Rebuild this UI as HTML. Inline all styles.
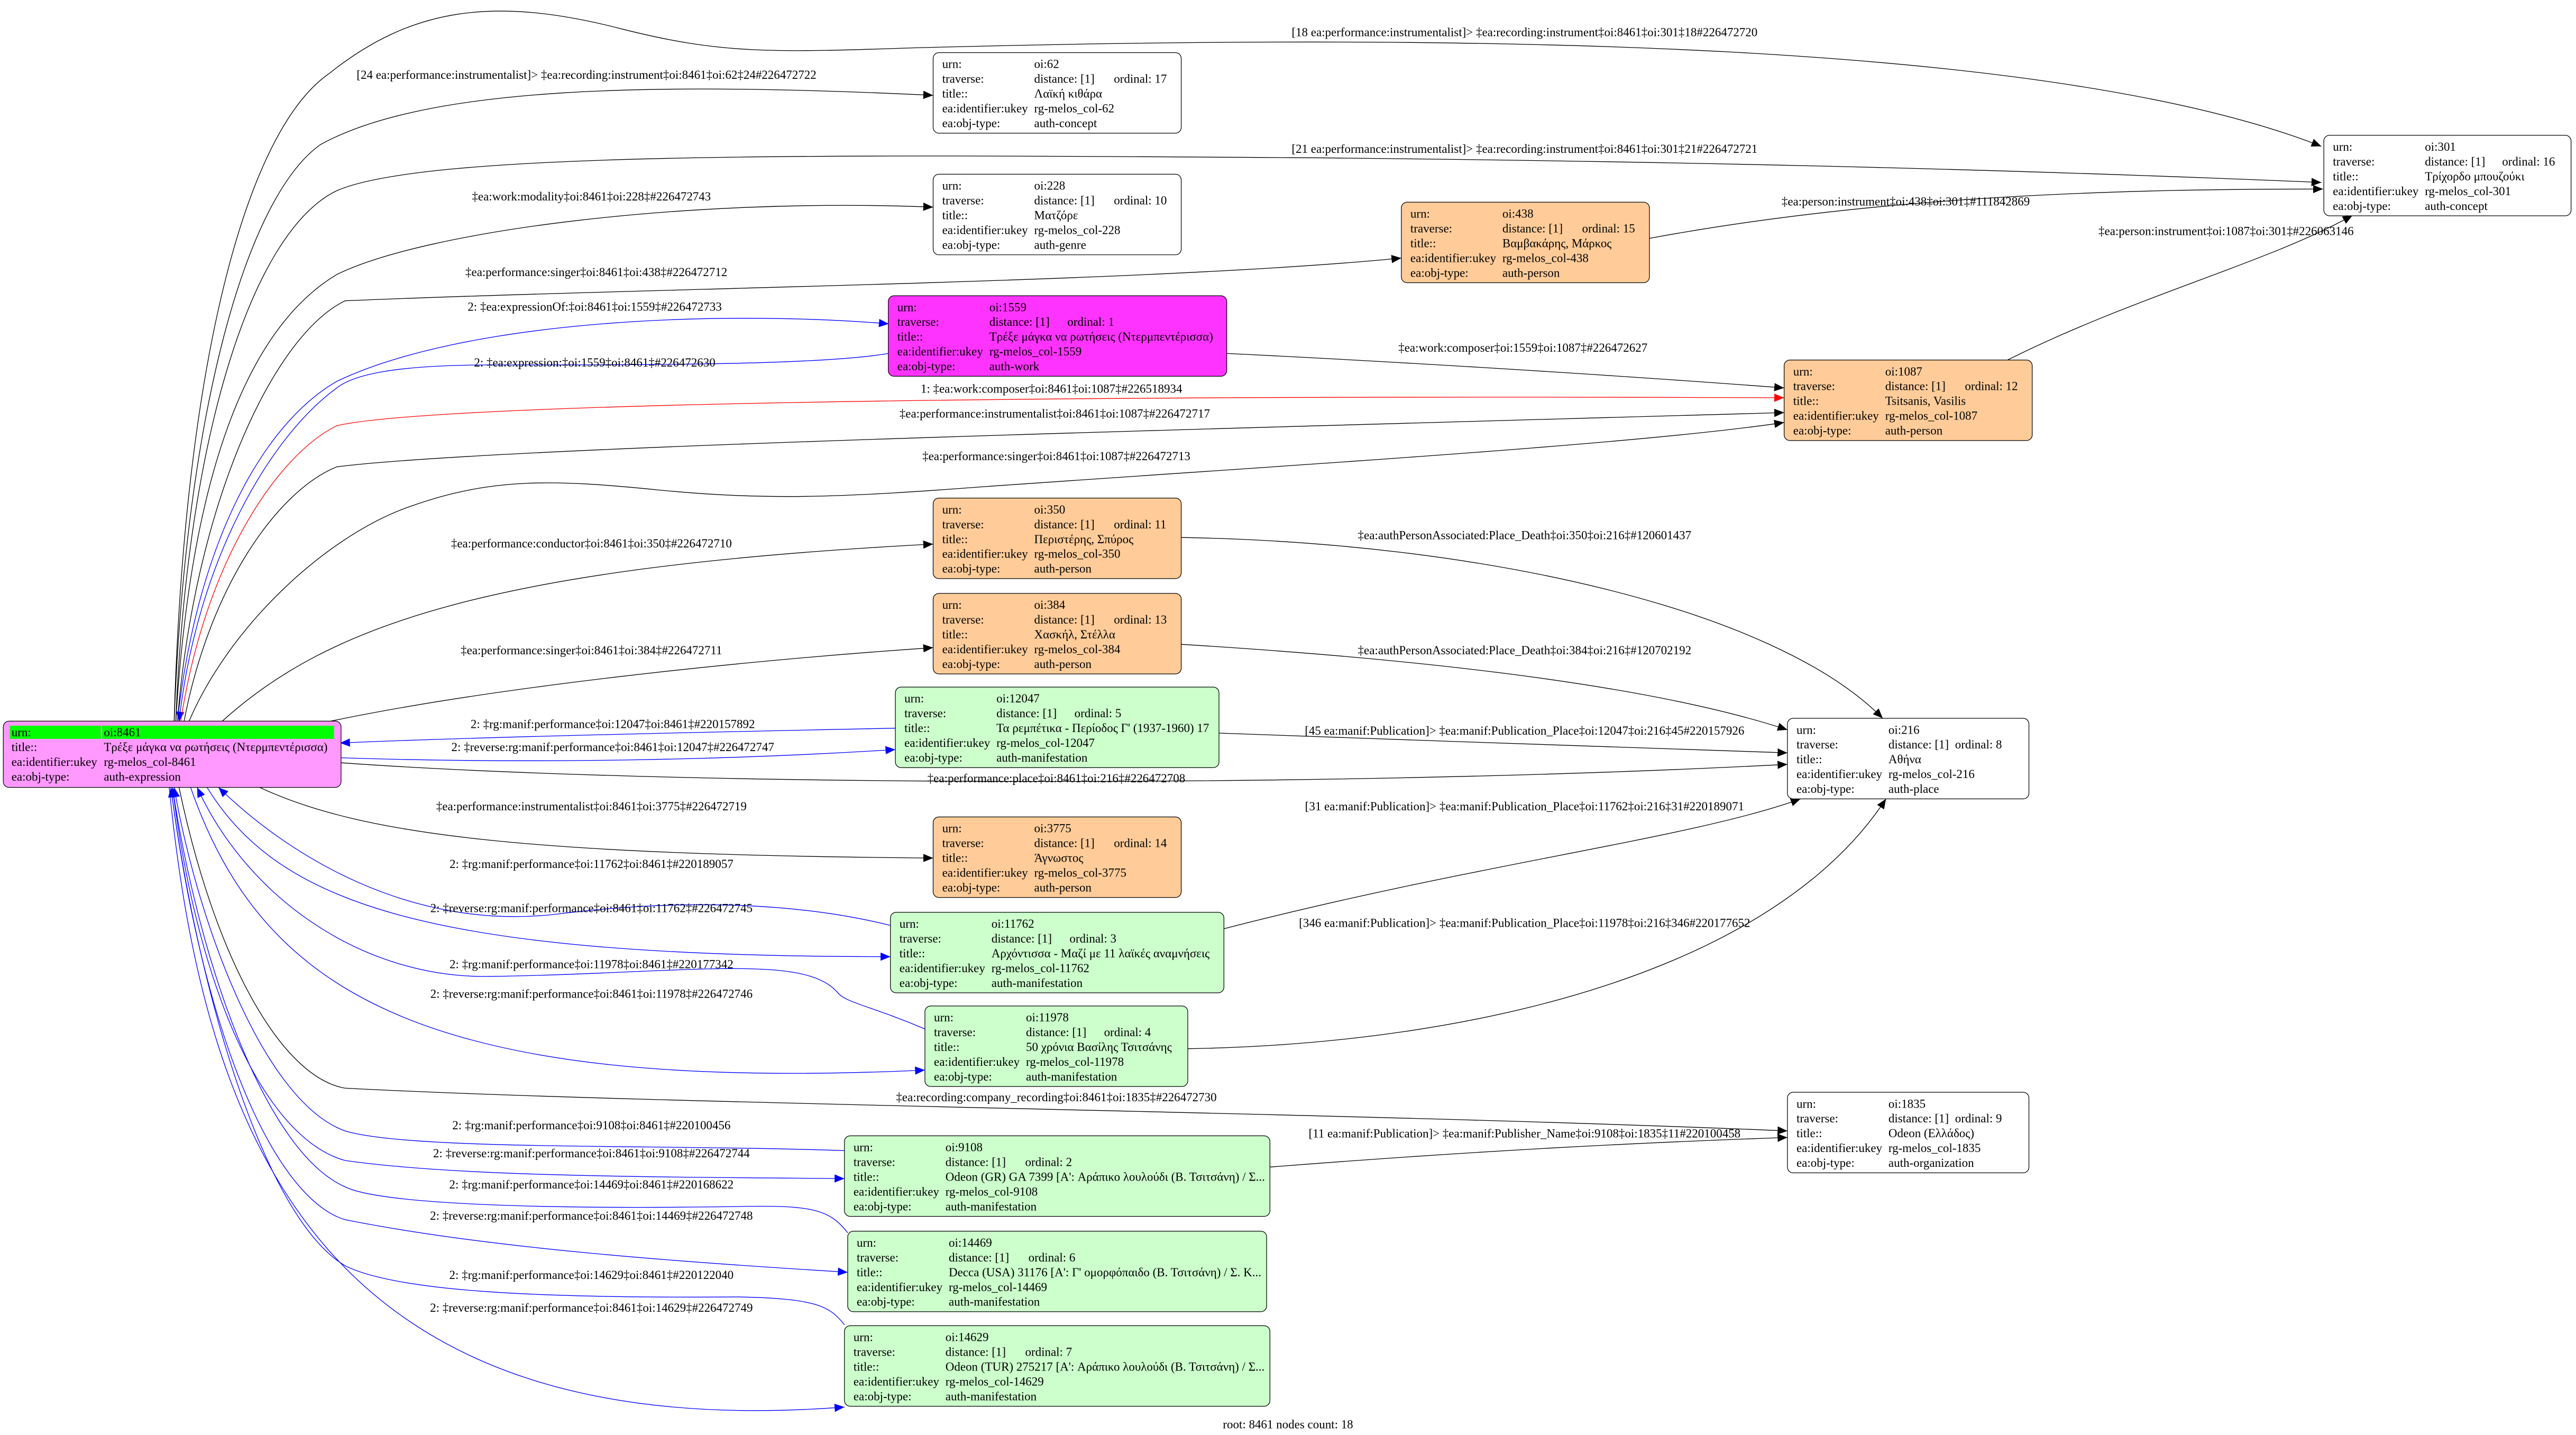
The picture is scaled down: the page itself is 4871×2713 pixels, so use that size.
<!DOCTYPE html>
<html><head><meta charset="utf-8"><style>
html,body{margin:0;padding:0;background:#fff;}
svg{display:block;}
text{font-family:"Liberation Serif","Noto Serif CJK SC",serif;font-size:7.4px;fill:#000;}
.e{fill:none;stroke:#000;stroke-width:0.42;}
.b{stroke:#0000ff;}
.r{stroke:#ff0000;}
.n{stroke:#000;stroke-width:0.4;}
.l{text-anchor:middle;}
</style></head><body>
<svg width="4871" height="2713" viewBox="0 0 1568 873" preserveAspectRatio="none" xmlns="http://www.w3.org/2000/svg">
<defs>
<marker id="ak" markerUnits="userSpaceOnUse" markerWidth="7" markerHeight="6" refX="6" refY="2.5" orient="auto"><path d="M0,0 L6,2.5 L0,5 z" fill="#000"/></marker>
<marker id="ab" markerUnits="userSpaceOnUse" markerWidth="7" markerHeight="6" refX="6" refY="2.5" orient="auto"><path d="M0,0 L6,2.5 L0,5 z" fill="#0000ff"/></marker>
<marker id="ar" markerUnits="userSpaceOnUse" markerWidth="7" markerHeight="6" refX="6" refY="2.5" orient="auto"><path d="M0,0 L6,2.5 L0,5 z" fill="#ff0000"/></marker>
</defs>

<path class="e" marker-end="url(#ak)" d="M106,439 C112,220 150,80 200,45 C250,5 300,-3 380,18 C440,33 470,32 560,29 C900,20 1250,25 1413,89"/>
<text class="l" x="928" y="22">[18 ea:performance:instrumentalist]&gt; ‡ea:recording:instrument‡oi:8461‡oi:301‡18#226472720</text>
<path class="e" marker-end="url(#ak)" d="M106,439 C113,250 150,120 195,88 C260,52 400,50 568,58"/>
<text class="l" x="357" y="48">[24 ea:performance:instrumentalist]&gt; ‡ea:recording:instrument‡oi:8461‡oi:62‡24#226472722</text>
<path class="e" marker-end="url(#ak)" d="M107,439 C114,260 155,140 205,116 C260,92 500,94 800,96 C1000,98 1200,102 1413,111"/>
<text class="l" x="928" y="93">[21 ea:performance:instrumentalist]&gt; ‡ea:recording:instrument‡oi:8461‡oi:301‡21#226472721</text>
<path class="e" marker-end="url(#ak)" d="M107,439 C116,290 150,200 205,167 C260,140 420,120 568,126"/>
<text class="l" x="360" y="122">‡ea:work:modality‡oi:8461‡oi:228‡#226472743</text>
<path class="e" marker-end="url(#ak)" d="M108,439 C118,310 165,205 210,183 C400,175 700,172 853,157"/>
<text class="l" x="363" y="168">‡ea:performance:singer‡oi:8461‡oi:438‡#226472712</text>
<path class="e b" marker-end="url(#ab)" d="M108,439 C120,330 160,258 205,232 C280,196 430,188 541,197"/>
<text class="l" x="362" y="189">2: ‡ea:expressionOf:‡oi:8461‡oi:1559‡#226472733</text>
<path class="e b" marker-end="url(#ab)" d="M541,215 C500,222 400,222 300,222 C240,222 215,228 205,236 C165,265 120,340 109,439"/>
<text class="l" x="362" y="223">2: ‡ea:expression:‡oi:1559‡oi:8461‡#226472630</text>
<path class="e r" marker-end="url(#ar)" d="M110,439 C125,340 170,276 205,259 C260,246 600,240 1086,242"/>
<text class="l" x="640" y="239">1: ‡ea:work:composer‡oi:8461‡oi:1087‡#226518934</text>
<path class="e" marker-end="url(#ak)" d="M112,439 C128,355 170,298 205,284 C300,272 700,262 1086,251"/>
<text class="l" x="642" y="254">‡ea:performance:instrumentalist‡oi:8461‡oi:1087‡#226472717</text>
<path class="e" marker-end="url(#ak)" d="M115,439 C140,380 200,325 250,308 C300,290 340,292 400,298 C470,305 520,302 600,296 C800,282 1000,270 1086,257"/>
<text class="l" x="643" y="280">‡ea:performance:singer‡oi:8461‡oi:1087‡#226472713</text>
<path class="e" marker-end="url(#ak)" d="M135,439 C200,380 300,345 568,331"/>
<text class="l" x="360" y="333">‡ea:performance:conductor‡oi:8461‡oi:350‡#226472710</text>
<path class="e" marker-end="url(#ak)" d="M200,439 C300,418 450,402 568,394"/>
<text class="l" x="360" y="398">‡ea:performance:singer‡oi:8461‡oi:384‡#226472711</text>

<path class="e b" marker-end="url(#ab)" d="M545,443 C450,445 300,448 207,452"/>
<text class="l" x="373" y="443">2: ‡rg:manif:performance‡oi:12047‡oi:8461‡#220157892</text>
<path class="e b" marker-end="url(#ab)" d="M207,461 C330,465 450,462 545,456"/>
<text class="l" x="373" y="457">2: ‡reverse:rg:manif:performance‡oi:8461‡oi:12047‡#226472747</text>
<path class="e" marker-end="url(#ak)" d="M207,464 C400,478 800,480 1088,465"/>
<text class="l" x="643" y="476">‡ea:performance:place‡oi:8461‡oi:216‡#226472708</text>
<path class="e" marker-end="url(#ak)" d="M158,479 C220,508 320,520 568,522"/>
<text class="l" x="360" y="493">‡ea:performance:instrumentalist‡oi:8461‡oi:3775‡#226472719</text>
<path class="e b" marker-end="url(#ab)" d="M542,563 C490,550 420,546 340,556 C250,567 175,520 133,479"/>
<text class="l" x="360" y="528">2: ‡rg:manif:performance‡oi:11762‡oi:8461‡#220189057</text>
<path class="e b" marker-end="url(#ab)" d="M126,479 C170,550 260,582 542,582"/>
<text class="l" x="360" y="555">2: ‡reverse:rg:manif:performance‡oi:8461‡oi:11762‡#226472745</text>
<path class="e b" marker-end="url(#ab)" d="M563,626 C530,612 515,610 510,604 C490,580 420,592 300,594 C220,596 150,545 120,479"/>
<text class="l" x="360" y="589">2: ‡rg:manif:performance‡oi:11978‡oi:8461‡#220177342</text>
<path class="e b" marker-end="url(#ab)" d="M116,479 C160,605 260,665 563,651"/>
<text class="l" x="360" y="607">2: ‡reverse:rg:manif:performance‡oi:8461‡oi:11978‡#226472746</text>
<path class="e" marker-end="url(#ak)" d="M109,479 C130,580 170,655 210,662 C400,672 800,676 1088,688"/>
<text class="l" x="643" y="670">‡ea:recording:company_recording‡oi:8461‡oi:1835‡#226472730</text>
<path class="e b" marker-end="url(#ab)" d="M514,700 C400,696 250,700 210,688 C160,670 120,560 106,479"/>
<text class="l" x="360" y="687">2: ‡rg:manif:performance‡oi:9108‡oi:8461‡#220100456</text>
<path class="e b" marker-end="url(#ab)" d="M105,479 C120,600 160,692 210,706 C280,716 400,716 514,717"/>
<text class="l" x="360" y="704">2: ‡reverse:rg:manif:performance‡oi:8461‡oi:9108‡#226472744</text>
<path class="e b" marker-end="url(#ab)" d="M516,750 C505,736 495,733 450,734 C320,736 230,732 210,722 C160,700 120,580 105,479"/>
<text class="l" x="360" y="723">2: ‡rg:manif:performance‡oi:14469‡oi:8461‡#220168622</text>
<path class="e b" marker-end="url(#ab)" d="M104,479 C125,640 170,730 210,742 C300,760 420,768 516,774"/>
<text class="l" x="360" y="742">2: ‡reverse:rg:manif:performance‡oi:8461‡oi:14469‡#226472748</text>
<path class="e b" marker-end="url(#ab)" d="M514,806 C505,794 495,790 450,789 C320,790 240,785 210,770 C160,740 120,600 104,479"/>
<text class="l" x="360" y="778">2: ‡rg:manif:performance‡oi:14629‡oi:8461‡#220122040</text>
<path class="e b" marker-end="url(#ab)" d="M103,479 C125,700 200,880 514,856"/>
<text class="l" x="360" y="798">2: ‡reverse:rg:manif:performance‡oi:8461‡oi:14629‡#226472749</text>

<path class="e" marker-end="url(#ak)" d="M1004,145 C1150,118 1300,115 1414,115"/>
<text class="l" x="1160" y="125">‡ea:person:instrument‡oi:438‡oi:301‡#111842869</text>
<path class="e" marker-end="url(#ak)" d="M1222,219 C1300,180 1380,160 1432,131"/>
<text class="l" x="1355" y="143">‡ea:person:instrument‡oi:1087‡oi:301‡#226063146</text>
<path class="e" marker-end="url(#ak)" d="M746,215 C850,220 980,228 1086,236"/>
<text class="l" x="927" y="214">‡ea:work:composer‡oi:1559‡oi:1087‡#226472627</text>
<path class="e" marker-end="url(#ak)" d="M719,327 C900,330 1080,370 1146,437"/>
<text class="l" x="928" y="328">‡ea:authPersonAssociated:Place_Death‡oi:350‡oi:216‡#120601437</text>
<path class="e" marker-end="url(#ak)" d="M719,392 C850,400 1000,415 1088,444"/>
<text class="l" x="928" y="398">‡ea:authPersonAssociated:Place_Death‡oi:384‡oi:216‡#120702192</text>
<path class="e" marker-end="url(#ak)" d="M742,446 C850,450 1000,455 1088,458"/>
<text class="l" x="928" y="447">[45 ea:manif:Publication]&gt; ‡ea:manif:Publication_Place‡oi:12047‡oi:216‡45#220157926</text>
<path class="e" marker-end="url(#ak)" d="M745,565 C900,525 1030,510 1096,486"/>
<text class="l" x="928" y="493">[31 ea:manif:Publication]&gt; ‡ea:manif:Publication_Place‡oi:11762‡oi:216‡31#220189071</text>
<path class="e" marker-end="url(#ak)" d="M723,638 C900,635 1080,590 1148,486"/>
<text class="l" x="928" y="564">[346 ea:manif:Publication]&gt; ‡ea:manif:Publication_Place‡oi:11978‡oi:216‡346#220177652</text>
<path class="e" marker-end="url(#ak)" d="M773,710 C900,700 1000,695 1088,692"/>
<text class="l" x="928" y="692">[11 ea:manif:Publication]&gt; ‡ea:manif:Publisher_Name‡oi:9108‡oi:1835‡11#220100458</text>

<rect class="n" x="2" y="438.7" width="205.6" height="40.3" rx="3.5" fill="#ff99ff"/>
<rect x="6" y="441.5" width="55.4" height="8" fill="#00ff00"/>
<rect x="62.1" y="441.5" width="141.2" height="8" fill="#00ff00"/>
<text x="7" y="447.9">urn:</text><text x="63.2" y="447.9">oi:8461</text>
<text x="7" y="456.9">title::</text><text x="63.2" y="456.9">Τρέξε μάγκα να ρωτήσεις (Ντερμπεντέρισσα)</text>
<text x="7" y="465.9">ea:identifier:ukey</text><text x="63.2" y="465.9">rg-melos_col-8461</text>
<text x="7" y="474.9">ea:obj-type:</text><text x="63.2" y="474.9">auth-expression</text>

<g transform="translate(568,32)"><rect class="n" width="151" height="49" rx="3.5" fill="#fff"/>
<text x="5.5" y="9.4">urn:</text><text x="61.5" y="9.4">oi:62</text>
<text x="5.5" y="18.4">traverse:</text><text x="61.5" y="18.4">distance: [1]</text><text x="110" y="18.4">ordinal: 17</text>
<text x="5.5" y="27.4">title::</text><text x="61.5" y="27.4">Λαϊκή κιθάρα</text>
<text x="5.5" y="36.4">ea:identifier:ukey</text><text x="61.5" y="36.4">rg-melos_col-62</text>
<text x="5.5" y="45.4">ea:obj-type:</text><text x="61.5" y="45.4">auth-concept</text></g>

<g transform="translate(568,106)"><rect class="n" width="151" height="49" rx="3.5" fill="#fff"/>
<text x="5.5" y="9.4">urn:</text><text x="61.5" y="9.4">oi:228</text>
<text x="5.5" y="18.4">traverse:</text><text x="61.5" y="18.4">distance: [1]</text><text x="110" y="18.4">ordinal: 10</text>
<text x="5.5" y="27.4">title::</text><text x="61.5" y="27.4">Ματζόρε</text>
<text x="5.5" y="36.4">ea:identifier:ukey</text><text x="61.5" y="36.4">rg-melos_col-228</text>
<text x="5.5" y="45.4">ea:obj-type:</text><text x="61.5" y="45.4">auth-genre</text></g>

<g transform="translate(853,123)"><rect class="n" width="151" height="49" rx="3.5" fill="#ffcc99"/>
<text x="5.5" y="9.4">urn:</text><text x="61.5" y="9.4">oi:438</text>
<text x="5.5" y="18.4">traverse:</text><text x="61.5" y="18.4">distance: [1]</text><text x="110" y="18.4">ordinal: 15</text>
<text x="5.5" y="27.4">title::</text><text x="61.5" y="27.4">Βαμβακάρης, Μάρκος</text>
<text x="5.5" y="36.4">ea:identifier:ukey</text><text x="61.5" y="36.4">rg-melos_col-438</text>
<text x="5.5" y="45.4">ea:obj-type:</text><text x="61.5" y="45.4">auth-person</text></g>

<g transform="translate(540.7,179.9)"><rect class="n" width="206" height="49" rx="3.5" fill="#ff33ff"/>
<text x="5.5" y="9.4">urn:</text><text x="61.5" y="9.4">oi:1559</text>
<text x="5.5" y="18.4">traverse:</text><text x="61.5" y="18.4">distance: [1]</text><text x="109" y="18.4">ordinal: 1</text>
<text x="5.5" y="27.4">title::</text><text x="61.5" y="27.4">Τρέξε μάγκα να ρωτήσεις (Ντερμπεντέρισσα)</text>
<text x="5.5" y="36.4">ea:identifier:ukey</text><text x="61.5" y="36.4">rg-melos_col-1559</text>
<text x="5.5" y="45.4">ea:obj-type:</text><text x="61.5" y="45.4">auth-work</text></g>

<g transform="translate(1086,219)"><rect class="n" width="151" height="49" rx="3.5" fill="#ffcc99"/>
<text x="5.5" y="9.4">urn:</text><text x="61.5" y="9.4">oi:1087</text>
<text x="5.5" y="18.4">traverse:</text><text x="61.5" y="18.4">distance: [1]</text><text x="110" y="18.4">ordinal: 12</text>
<text x="5.5" y="27.4">title::</text><text x="61.5" y="27.4">Tsitsanis, Vasilis</text>
<text x="5.5" y="36.4">ea:identifier:ukey</text><text x="61.5" y="36.4">rg-melos_col-1087</text>
<text x="5.5" y="45.4">ea:obj-type:</text><text x="61.5" y="45.4">auth-person</text></g>

<g transform="translate(1414.5,82.3)"><rect class="n" width="150.5" height="49" rx="3.5" fill="#fff"/>
<text x="5.5" y="9.4">urn:</text><text x="61.5" y="9.4">oi:301</text>
<text x="5.5" y="18.4">traverse:</text><text x="61.5" y="18.4">distance: [1]</text><text x="108.5" y="18.4">ordinal: 16</text>
<text x="5.5" y="27.4">title::</text><text x="61.5" y="27.4">Τρίχορδο μπουζούκι</text>
<text x="5.5" y="36.4">ea:identifier:ukey</text><text x="61.5" y="36.4">rg-melos_col-301</text>
<text x="5.5" y="45.4">ea:obj-type:</text><text x="61.5" y="45.4">auth-concept</text></g>

<g transform="translate(568,303)"><rect class="n" width="151" height="49" rx="3.5" fill="#ffcc99"/>
<text x="5.5" y="9.4">urn:</text><text x="61.5" y="9.4">oi:350</text>
<text x="5.5" y="18.4">traverse:</text><text x="61.5" y="18.4">distance: [1]</text><text x="110" y="18.4">ordinal: 11</text>
<text x="5.5" y="27.4">title::</text><text x="61.5" y="27.4">Περιστέρης, Σπύρος</text>
<text x="5.5" y="36.4">ea:identifier:ukey</text><text x="61.5" y="36.4">rg-melos_col-350</text>
<text x="5.5" y="45.4">ea:obj-type:</text><text x="61.5" y="45.4">auth-person</text></g>

<g transform="translate(568,361)"><rect class="n" width="151" height="49" rx="3.5" fill="#ffcc99"/>
<text x="5.5" y="9.4">urn:</text><text x="61.5" y="9.4">oi:384</text>
<text x="5.5" y="18.4">traverse:</text><text x="61.5" y="18.4">distance: [1]</text><text x="110" y="18.4">ordinal: 13</text>
<text x="5.5" y="27.4">title::</text><text x="61.5" y="27.4">Χασκήλ, Στέλλα</text>
<text x="5.5" y="36.4">ea:identifier:ukey</text><text x="61.5" y="36.4">rg-melos_col-384</text>
<text x="5.5" y="45.4">ea:obj-type:</text><text x="61.5" y="45.4">auth-person</text></g>

<g transform="translate(545,418)"><rect class="n" width="197" height="49" rx="3.5" fill="#ccffcc"/>
<text x="5.5" y="9.4">urn:</text><text x="61.5" y="9.4">oi:12047</text>
<text x="5.5" y="18.4">traverse:</text><text x="61.5" y="18.4">distance: [1]</text><text x="109" y="18.4">ordinal: 5</text>
<text x="5.5" y="27.4">title::</text><text x="61.5" y="27.4">Τα ρεμπέτικα - Περίοδος Γ' (1937-1960) 17</text>
<text x="5.5" y="36.4">ea:identifier:ukey</text><text x="61.5" y="36.4">rg-melos_col-12047</text>
<text x="5.5" y="45.4">ea:obj-type:</text><text x="61.5" y="45.4">auth-manifestation</text></g>

<g transform="translate(1088,437)"><rect class="n" width="147" height="49" rx="3.5" fill="#fff"/>
<text x="5.5" y="9.4">urn:</text><text x="61.5" y="9.4">oi:216</text>
<text x="5.5" y="18.4">traverse:</text><text x="61.5" y="18.4">distance: [1]</text><text x="102" y="18.4">ordinal: 8</text>
<text x="5.5" y="27.4">title::</text><text x="61.5" y="27.4">Αθήνα</text>
<text x="5.5" y="36.4">ea:identifier:ukey</text><text x="61.5" y="36.4">rg-melos_col-216</text>
<text x="5.5" y="45.4">ea:obj-type:</text><text x="61.5" y="45.4">auth-place</text></g>

<g transform="translate(568,497)"><rect class="n" width="151" height="49" rx="3.5" fill="#ffcc99"/>
<text x="5.5" y="9.4">urn:</text><text x="61.5" y="9.4">oi:3775</text>
<text x="5.5" y="18.4">traverse:</text><text x="61.5" y="18.4">distance: [1]</text><text x="110" y="18.4">ordinal: 14</text>
<text x="5.5" y="27.4">title::</text><text x="61.5" y="27.4">Άγνωστος</text>
<text x="5.5" y="36.4">ea:identifier:ukey</text><text x="61.5" y="36.4">rg-melos_col-3775</text>
<text x="5.5" y="45.4">ea:obj-type:</text><text x="61.5" y="45.4">auth-person</text></g>

<g transform="translate(542,555)"><rect class="n" width="203" height="49" rx="3.5" fill="#ccffcc"/>
<text x="5.5" y="9.4">urn:</text><text x="61.5" y="9.4">oi:11762</text>
<text x="5.5" y="18.4">traverse:</text><text x="61.5" y="18.4">distance: [1]</text><text x="109" y="18.4">ordinal: 3</text>
<text x="5.5" y="27.4">title::</text><text x="61.5" y="27.4">Αρχόντισσα - Μαζί με 11 λαϊκές αναμνήσεις</text>
<text x="5.5" y="36.4">ea:identifier:ukey</text><text x="61.5" y="36.4">rg-melos_col-11762</text>
<text x="5.5" y="45.4">ea:obj-type:</text><text x="61.5" y="45.4">auth-manifestation</text></g>

<g transform="translate(563,612)"><rect class="n" width="160" height="49" rx="3.5" fill="#ccffcc"/>
<text x="5.5" y="9.4">urn:</text><text x="61.5" y="9.4">oi:11978</text>
<text x="5.5" y="18.4">traverse:</text><text x="61.5" y="18.4">distance: [1]</text><text x="109" y="18.4">ordinal: 4</text>
<text x="5.5" y="27.4">title::</text><text x="61.5" y="27.4">50 χρόνια Βασίλης Τσιτσάνης</text>
<text x="5.5" y="36.4">ea:identifier:ukey</text><text x="61.5" y="36.4">rg-melos_col-11978</text>
<text x="5.5" y="45.4">ea:obj-type:</text><text x="61.5" y="45.4">auth-manifestation</text></g>

<g transform="translate(1088,664.5)"><rect class="n" width="147" height="49" rx="3.5" fill="#fff"/>
<text x="5.5" y="9.4">urn:</text><text x="61.5" y="9.4">oi:1835</text>
<text x="5.5" y="18.4">traverse:</text><text x="61.5" y="18.4">distance: [1]</text><text x="102" y="18.4">ordinal: 9</text>
<text x="5.5" y="27.4">title::</text><text x="61.5" y="27.4">Odeon (Ελλάδος)</text>
<text x="5.5" y="36.4">ea:identifier:ukey</text><text x="61.5" y="36.4">rg-melos_col-1835</text>
<text x="5.5" y="45.4">ea:obj-type:</text><text x="61.5" y="45.4">auth-organization</text></g>

<g transform="translate(514,691)"><rect class="n" width="259" height="49" rx="3.5" fill="#ccffcc"/>
<text x="5.5" y="9.4">urn:</text><text x="61.5" y="9.4">oi:9108</text>
<text x="5.5" y="18.4">traverse:</text><text x="61.5" y="18.4">distance: [1]</text><text x="110" y="18.4">ordinal: 2</text>
<text x="5.5" y="27.4">title::</text><text x="61.5" y="27.4">Odeon (GR) GA 7399 [A': Αράπικο λουλούδι (Β. Τσιτσάνη) / Σ...</text>
<text x="5.5" y="36.4">ea:identifier:ukey</text><text x="61.5" y="36.4">rg-melos_col-9108</text>
<text x="5.5" y="45.4">ea:obj-type:</text><text x="61.5" y="45.4">auth-manifestation</text></g>

<g transform="translate(516,749)"><rect class="n" width="255" height="49" rx="3.5" fill="#ccffcc"/>
<text x="5.5" y="9.4">urn:</text><text x="61.5" y="9.4">oi:14469</text>
<text x="5.5" y="18.4">traverse:</text><text x="61.5" y="18.4">distance: [1]</text><text x="110" y="18.4">ordinal: 6</text>
<text x="5.5" y="27.4">title::</text><text x="61.5" y="27.4">Decca (USA) 31176 [A': Γ' ομορφόπαιδο (Β. Τσιτσάνη) / Σ. Κ...</text>
<text x="5.5" y="36.4">ea:identifier:ukey</text><text x="61.5" y="36.4">rg-melos_col-14469</text>
<text x="5.5" y="45.4">ea:obj-type:</text><text x="61.5" y="45.4">auth-manifestation</text></g>

<g transform="translate(514,806.5)"><rect class="n" width="259" height="49" rx="3.5" fill="#ccffcc"/>
<text x="5.5" y="9.4">urn:</text><text x="61.5" y="9.4">oi:14629</text>
<text x="5.5" y="18.4">traverse:</text><text x="61.5" y="18.4">distance: [1]</text><text x="110" y="18.4">ordinal: 7</text>
<text x="5.5" y="27.4">title::</text><text x="61.5" y="27.4">Odeon (TUR) 275217 [A': Αράπικο λουλούδι (Β. Τσιτσάνη) / Σ...</text>
<text x="5.5" y="36.4">ea:identifier:ukey</text><text x="61.5" y="36.4">rg-melos_col-14629</text>
<text x="5.5" y="45.4">ea:obj-type:</text><text x="61.5" y="45.4">auth-manifestation</text></g>

<text class="l" x="784" y="869">root: 8461 nodes count: 18</text>
</svg>
</body></html>
